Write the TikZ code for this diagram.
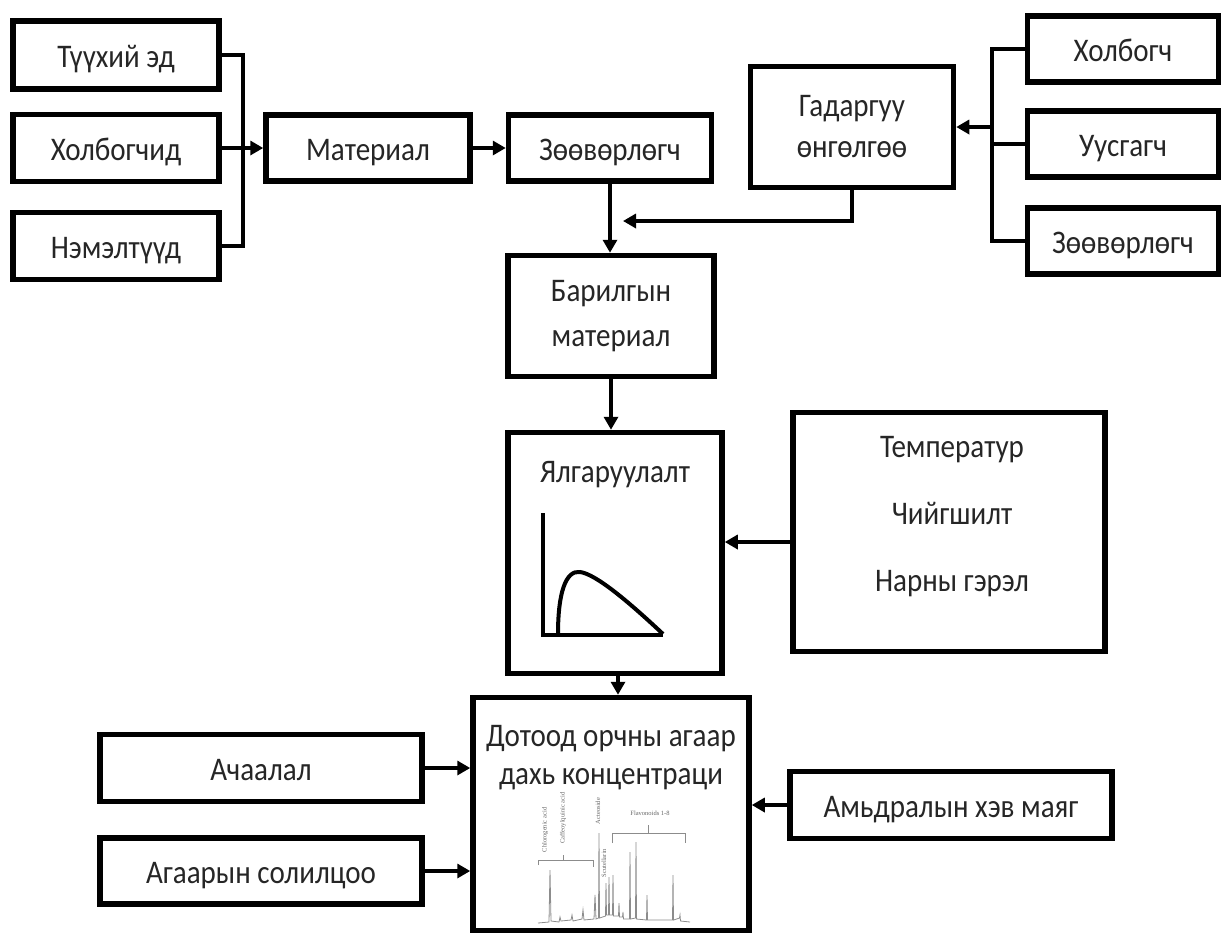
\documentclass[tikz,border=0pt]{standalone}
\usepackage{fontspec}
\setmainfont[FakeStretch=0.88]{Carlito}
\newfontfamily\chromfont{Liberation Serif}
\usetikzlibrary{arrows.meta,calc}
\begin{document}
\begin{tikzpicture}[x=1pt,y=-1pt,
  txt/.style={font=\fontsize{33}{45}\selectfont, text=black!85, align=center, inner sep=0pt},
  box/.style={draw, line width=5.5pt, inner sep=0pt, txt},
  one/.style={text height=26pt, text depth=1pt},
  conn/.style={line width=4.5pt},
  arr/.style={line width=4.5pt, -{Triangle[length=13pt,width=14pt]}},
  chrom/.style={draw=black!45, line width=0.8pt},
  chromtxt/.style={font=\chromfont\fontsize{6.5}{7}\selectfont, text=black!60, inner sep=0pt}
]
\useasboundingbox (0,0) rectangle (1226,938);
% left input boxes
\node[box, one, minimum width=206, minimum height=68] (t1) at (116,55) {Түүхий эд};
\node[box, one, minimum width=206, minimum height=67] (t2) at (116,148) {Холбогчид};
\node[box, one, minimum width=206, minimum height=67] (t3) at (116,246) {Нэмэлтүүд};
\node[box, one, minimum width=204, minimum height=66] (mat) at (368,148) {Материал};
\node[box, one, minimum width=203, minimum height=66] (zov) at (610,148) {Зөөвөрлөгч};
\node[box, minimum width=203, minimum height=121, font=\fontsize{33}{41}\selectfont] (gad) at (852,127) {Гадаргуу\\өнгөлгөө};
% right input boxes
\node[box, one, minimum width=191, minimum height=66] (r1) at (1123,49) {Холбогч};
\node[box, one, minimum width=191, minimum height=66] (r2) at (1123,144) {Уусгагч};
\node[box, one, minimum width=191, minimum height=66] (r3) at (1123,241) {Зөөвөрлөгч};
% central chain
\node[box, minimum width=206, minimum height=121] (bar) at (611,316) {Барилгын\\материал};
\node[box, minimum width=214, minimum height=241] (yal) at (615,553) {};
\node[txt, one] (yaltxt) at (615,470) {Ялгаруулалт};
\node[box, minimum width=312, minimum height=239] (tem) at (949,532) {};
\node[txt, font=\fontsize{33}{67}\selectfont] (temtxt) at (952,517) {Температур\\Чийгшилт\\Нарны гэрэл};
\node[box, minimum width=276, minimum height=233] (dot) at (611,814) {};
\node[box, one, minimum width=322, minimum height=67] (ach) at (261,768) {Ачаалал};
\node[box, one, minimum width=322, minimum height=66] (agr) at (261,871) {Агаарын солилцоо};
\node[box, one, minimum width=322, minimum height=67] (amd) at (951,805) {Амьдралын хэв маяг};
% emission curve
\coordinate (ax0) at (543,513);
\coordinate (ax1) at (543,635);
\coordinate (ax2) at (663,635);
\draw[line width=4pt] (ax0) -- (ax1) -- (ax2);
\draw[line width=4pt] (558,634) .. controls (558,592) and (566,570) .. (580,572) .. controls (596,574) and (630,603) .. (663,634);
% chromatogram
\draw[chrom] (538,923) -- (549,922) -- (550,870) -- (551,921) -- (559,922) -- (560,917) -- (561,921) -- (571,920) -- (572,915) -- (573,921) -- (582,919) -- (583,910) -- (584,920) -- (594,919) -- (595,895) -- (596,919) -- (598.5,918) -- (599,833) -- (599.5,918) -- (605.5,916) -- (606,883) -- (606.5,915) -- (608.5,915) -- (609,877) -- (609.5,915) -- (612.5,915) -- (613,875) -- (613.5,916) -- (618.5,916) -- (619,903) -- (619.5,917) -- (622.5,917) -- (623,912) -- (623.5,919) -- (629.5,919) -- (630,852) -- (630.5,919) -- (635.5,918) -- (636,842) -- (636.5,919) -- (646.5,920) -- (647,895) -- (647.5,920) -- (672.5,920) -- (673,875) -- (673.5,920) -- (679.5,918) -- (680,915) -- (680.5,921) -- (690,922);
\draw[chrom] (538,865) -- (538,860) -- (593,860) -- (593,867);
\draw[chrom] (563,860) -- (563,855);
\draw[chrom] (612,843) -- (612,833) -- (685,833) -- (685,843);
\draw[chrom] (648,833) -- (648,825);
\node[chromtxt, rotate=90] (c1) at (545,830) {Chlorogenic acid};
\node[chromtxt, rotate=90] (c2) at (563,818) {Caffeoylquinic acid};
\node[chromtxt, rotate=90] (c3) at (598,811) {Acteoside};
\node[chromtxt, rotate=90] (c4) at (604,863) {Scutellarin};
\node[chromtxt] (c5) at (650,813) {Flavonoids 1-8};
\node[txt, font=\fontsize{33}{38}\selectfont] (dottxt) at (611,758) {Дотоод орчны агаар\\дахь концентраци};
% connectors: left bracket
\coordinate (brl) at (243,148);
\draw[conn] (t1.east) -- (t1.east -| brl) -- (t3.east -| brl) -- (t3.east);
\draw[arr] (t2.east) -- (mat.west);
\draw[arr] (mat.east) -- (zov.west);
% right bracket
\coordinate (brr) at (992,127);
\draw[conn] (r1.west) -- (r1.west -| brr) -- (r3.west -| brr) -- (r3.west);
\draw[conn] (r2.west) -- (r2.west -| brr);
\draw[arr] (brr) -- (gad.east);
% surface finishing to chain
\coordinate (gadend) at (623,221);
\draw[arr] (gad.south) |- (gadend);
\draw[arr] (zov.south) -- (zov.south |- bar.north);
\draw[arr] (bar.south) -- (bar.south |- yal.north);
\draw[arr] ([yshift=-10pt]tem.west) -- ([yshift=-10pt]tem.west -| yal.east);
\draw[arr] ([xshift=3pt]yal.south) -- ([xshift=3pt]yal.south |- dot.north);
\draw[arr] (ach.east) -- (ach.east -| dot.west);
\draw[arr] (agr.east) -- (agr.east -| dot.west);
\draw[arr] (amd.west) -- (amd.west -| dot.east);
\end{tikzpicture}
\end{document}
